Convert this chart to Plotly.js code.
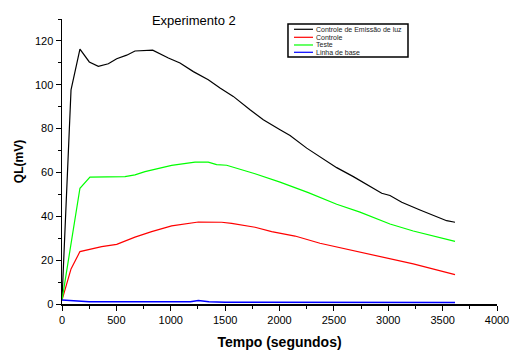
<!DOCTYPE html>
<html>
<head>
<meta charset="utf-8">
<script src="https://cdn.plot.ly/plotly-3.0.1.min.js"></script>
<style>html,body{margin:0;padding:0;background:#fff;}#chart{width:513px;height:352px;}</style>
</head>
<body>
<div id="chart"></div>
<script>
const seriesNames = ["Controle de Emissão de luz", "Controle", "Teste", "Linha de base"];
const seriesColors = ["#000000", "#ff0000", "#00ff00", "#0000ff"];

const tBlack = [0,83,165,251,334,426,503,595,671,834,978,1085,1208,1345,1453,1575,1729,1851,2005,2097,2250,2434,2526,2679,2832,2940,3016,3124,3292,3445,3537,3614];
const vBlack = [2,97.7,116.3,110.4,108.4,109.6,111.9,113.5,115.4,115.8,112.2,109.9,106,102.3,98.5,94.7,88.6,84,79.5,76.9,71.1,65.4,62.2,58.1,53.6,50.5,49.5,46.4,42.9,39.9,38,37.3];

const tRed = [0,83,165,365,503,671,824,1008,1254,1468,1560,1775,1928,2143,2372,2618,3016,3230,3614];
const vRed = [1.8,16,23.9,26.2,27.2,30.5,33,35.6,37.4,37.3,36.8,35,33,31,27.7,25,20.4,18.3,13.4];

const tGreen = [0,165,257,579,671,763,1008,1223,1345,1422,1514,1621,1775,2005,2265,2526,2740,3016,3230,3614];
const vGreen = [1.8,52.8,57.9,58.1,58.9,60.4,63.2,64.7,64.7,63.6,63.3,61.8,59.4,55.6,50.8,45.5,41.9,36.5,33.3,28.6];

const tBlue = [0,250,500,1000,1180,1254,1350,1500,2000,2500,3000,3614];
const vBlue = [1.8,1.0,1.0,1.0,1.0,1.6,1.0,0.8,0.8,0.7,0.7,0.7];

const xs = [tBlack, tRed, tGreen, tBlue];
const ys = [vBlack, vRed, vGreen, vBlue];

const traces = seriesNames.map((n, i) => ({
  x: xs[i], y: ys[i], name: n, type: 'scatter', mode: 'lines', showlegend: false,
  line: {color: seriesColors[i], width: i === 3 ? 1.5 : 1.2}
}));

const font = {family: 'Liberation Sans, Arial, sans-serif', color: '#000'};

// custom compact legend (paper coordinates)
const legBox = {x0: 0.5195, x1: 0.7954, y0: 0.8667, y1: 0.9825};
const legRowsY = [0.9639, 0.9358, 0.9088, 0.8832];
const legLineX = [0.5333, 0.5770];
const shapes = [{type: 'rect', xref: 'paper', yref: 'paper', x0: legBox.x0, x1: legBox.x1, y0: legBox.y0, y1: legBox.y1,
                 line: {color: '#000', width: 1.5}, fillcolor: '#fff', layer: 'above'}];
const annotations = [];
seriesNames.forEach((n, i) => {
  shapes.push({type: 'line', xref: 'paper', yref: 'paper', x0: legLineX[0], x1: legLineX[1], y0: legRowsY[i], y1: legRowsY[i],
               line: {color: seriesColors[i], width: 1.2}, layer: 'above'});
  annotations.push({xref: 'paper', yref: 'paper', x: legLineX[1] + 0.002, y: legRowsY[i], xanchor: 'left', yanchor: 'middle',
                    text: n, showarrow: false, font: Object.assign({size: 7}, font, {color: '#222'})});
});

const layout = {
  width: 513, height: 352,
  margin: {l: 62, r: 16, t: 19, b: 48},
  paper_bgcolor: '#fff', plot_bgcolor: '#fff',
  font: Object.assign({size: 11}, font),
  title: {text: 'Experimento 2', font: Object.assign({size: 13}, font),
          x: 0.303, xref: 'paper', xanchor: 'center', y: 0.943, yref: 'container', yanchor: 'middle'},
  showlegend: false,
  shapes: shapes,
  annotations: annotations,
  xaxis: {range: [0, 4000], dtick: 500, tick0: 0, showgrid: false, zeroline: false,
          showline: true, linecolor: '#000', linewidth: 1.5,
          ticks: 'outside', ticklen: 5, tickcolor: '#000', tickwidth: 1,
          minor: {dtick: 250, ticks: 'outside', ticklen: 3, tickcolor: '#000', showgrid: false},
          tickfont: Object.assign({size: 11}, font),
          title: {text: 'Tempo (segundos)', font: Object.assign({size: 14, weight: 'bold'}, font), standoff: 12}},
  yaxis: {range: [0, 130], dtick: 20, tick0: 0, showgrid: false, zeroline: false,
          showline: true, linecolor: '#000', linewidth: 1.5,
          ticks: 'outside', ticklen: 5, tickcolor: '#000', tickwidth: 1,
          minor: {dtick: 10, ticks: 'outside', ticklen: 3, tickcolor: '#000', showgrid: false},
          tickfont: Object.assign({size: 11}, font),
          title: {text: 'QL(mV)', font: Object.assign({size: 12, weight: 'bold'}, font), standoff: 8}}
};

Plotly.newPlot('chart', traces, layout, {displayModeBar: false, staticPlot: true});
</script>
</body>
</html>
